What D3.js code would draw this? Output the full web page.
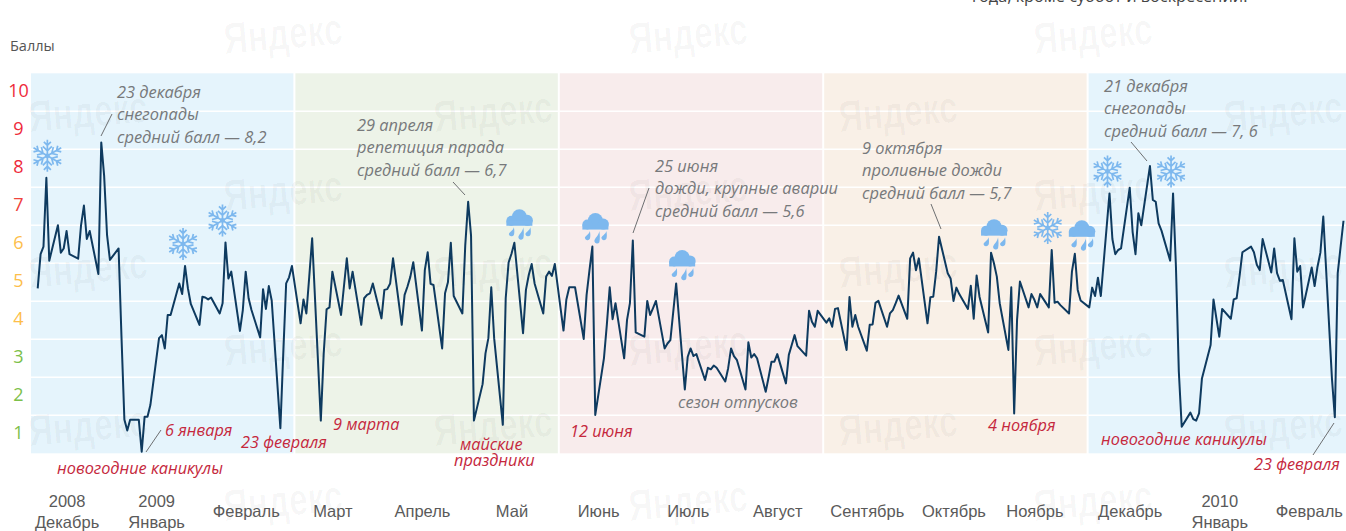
<!DOCTYPE html>
<html><head><meta charset="utf-8">
<script src="https://cdn.jsdelivr.net/npm/d3@7/dist/d3.min.js"></script>
<style>
html,body{margin:0;padding:0;background:#fff;overflow:hidden}
svg{display:block}
.note{font-family:"Open Sans",sans-serif;font-style:italic;font-size:16.4px;fill:#77797b}
.red{fill:#c5283d;font-size:16.3px}
.axis text{font-family:"Liberation Sans",sans-serif}
</style></head><body><svg id="c" width="1346" height="531"></svg>
<script>
const seasons = ["зима","весна","лето","осень","зима2"];
const seasonColors = ["#e5f4fc","#edf3e8","#f8ecec","#f9f0e7","#e5f4fc"];
const gridValues = [1,2,3,4,5,6,7,8,9];
const scoreLabels = [1,2,3,4,5,6,7,8,9,10];
const scoreColors = ["#7cc04a","#7cc04a","#7cc04a","#fdbe4a","#fdbe4a","#fdbe4a","#f0433c","#ee2a3a","#ee2a3a","#ee2a3a"];
// Одно значение на рабочий день, неделя за неделей, с 1 декабря 2008
const scores = [
4.34,5.24,5.44,7.25,5.07, 6.0,5.28,5.39,5.85,5.24, 5.12,6.0,6.52,5.64,5.85, 4.72,8.18,7.3,5.75,5.09,
5.39,3.07,0.89,0.6,0.88, 0.88,0.04,0.96,0.96,1.27, 3.03,3.11,2.76,3.64,3.64, 4.47,4.19,4.93,4.34,3.93,
3.38,4.12,4.1,4.05,4.1, 3.68,3.95,5.55,4.6,4.78, 3.22,3.77,4.78,4.08,3.77, 3.05,4.32,3.8,4.4,4.02,
0.66,2.63,4.47,4.63,4.93, 3.42,4.05,3.68,4.65,5.66, 0.86,2.63,3.79,3.84,4.78, 3.64,4.39,5.13,4.34,4.78,
3.38,4.08,4.17,4.21,4.47, 3.55,4.3,4.32,4.47,5.13, 3.38,4.17,4.39,4.65,5.03, 3.23,4.82,5.29,4.46,4.43,
2.76,4.21,4.5,5.54,4.14, 3.68,5.48,6.62,5.73,0.86, 1.82,2.63,3.03,4.37,3.03, 0.75,4.08,5.02,5.25,5.54,
3.16,4.3,4.7,4.98,4.47, 3.68,4.65,4.78,4.67,4.98, 3.23,4.05,4.37,4.37,4.37, 3.01,4.17,4.82,5.44,1.01,
2.5,3.38,4.37,3.53,3.95, 2.5,3.51,3.95,5.6,3.18, 3.07,4.01,3.64,3.82,4.01, 2.76,2.89,2.98,3.73,4.47,
1.68,2.54,2.76,2.56,2.61, 1.93,2.25,2.21,2.31,2.25, 1.89,2.24,2.76,2.56,2.46, 1.68,2.92,2.52,2.61,2.5,
1.62,2.0,2.41,2.41,2.61, 1.84,2.59,2.85,3.11,2.82, 2.57,3.75,3.46,3.33,3.75, 3.44,3.55,3.33,3.8,3.82,
2.72,4.11,3.33,3.64,3.33, 2.7,3.38,3.39,3.96,4.01, 3.33,3.68,3.77,3.95,4.15, 3.54,5.13,5.28,4.82,5.13,
3.42,4.11,4.12,4.78,5.7, 4.74,4.6,4.01,4.36,4.19, 3.8,4.41,3.54,4.68,4.12, 3.18,5.28,5.0,4.65,3.95,
2.72,4.37,1.05,3.51,4.52, 3.84,4.19,4.04,3.84,4.19, 3.84,5.35,3.96,3.99,3.9, 3.68,4.78,5.25,4.3,4.02,
3.84,4.36,4.14,4.62,4.14, 6.84,5.64,5.24,5.35,5.39, 6.99,5.83,5.24,6.32,6.0, 7.56,6.67,6.62,6.05,5.86,
5.07,6.84,4.91,2.15,0.7, 1.07,0.9,0.86,1.05,1.97, 2.85,4.05,3.55,3.07,3.8, 3.54,4.05,4.08,4.65,5.29,
5.44,5.29,4.96,4.82,5.64, 4.76,5.39,4.74,4.54,4.56, 3.53,5.66,4.78,4.93,3.84, 4.89,4.4,4.91,5.28,6.23,
1.97,0.95,4.74,5.44,6.12
];
const monthLabels = [["2008","Декабрь"],["2009","Январь"],["Февраль"],["Март"],["Апрель"],["Май"],["Июнь"],["Июль"],["Август"],["Сентябрь"],["Октябрь"],["Ноябрь"],["Декабрь"],["2010","Январь"],["Февраль"]];
const monthDates = ["2008-12-11","2009-01-11","2009-02-11","2009-03-13","2009-04-13","2009-05-14","2009-06-13","2009-07-14","2009-08-14","2009-09-14","2009-10-14","2009-11-11","2009-12-14","2010-01-14","2010-02-14"];
const iconDates = ["2008-12-04","2009-01-21","2009-02-04","2009-05-15","2009-06-11","2009-07-10","2009-10-27","2009-11-17","2009-11-25","2009-12-07","2009-12-29"];
const iconKinds = ["snow","snow","snow","rain","rain","rain","rain","snow","rain","snow","snow"];
const iconShift = [1,-2,-3,5,3,6,3,-4,7,-2,-2];
const notes = [
 {x:117,y:98,lines:["23 декабря","снегопады","средний балл — 8,2"]},
 {x:357,y:131,lines:["29 апреля","репетиция парада","средний балл — 6,7"]},
 {x:655,y:172,lines:["25 июня","дожди, крупные аварии","средний балл — 5,6"]},
 {x:862,y:154,lines:["9 октября","проливные дожди","средний балл — 5,7"]},
 {x:1104,y:92,lines:["21 декабря","снегопады","средний балл — 7, 6"]},
 {x:678,y:408,lines:["сезон отпусков"]}
];
const redNotes = [
 {x:165,y:436,t:"6 января"},{x:241,y:448,t:"23 февраля"},{x:57,y:474,t:"новогодние каникулы"},
 {x:333,y:430,t:"9 марта"},{x:460,y:450,t:"майские"},{x:454,y:466,t:"праздники"},
 {x:570,y:437,t:"12 июня"},{x:988,y:431,t:"4 ноября"},{x:1101,y:445,t:"новогодние каникулы"},{x:1254,y:470,t:"23 февраля"}
];
const leaders = [[101,136,112,114],[453,182,465,195],[633,233,649,188],[931,204,941,229],[1131,142,1147,161],[146,452,161,430],[1313,455,1334,423]];
const wmTop = [[225,54],[630,54],[1035,54],[225,211],[630,211],[1035,211],[225,366],[630,366],[1035,366],[225,521],[630,521],[1035,521]];
const wmSide = [[30,132],[435,132],[840,132],[1225,132],[30,288],[435,288],[840,288],[1225,288],[30,446],[435,446],[840,446],[1225,446]];

const svg = d3.select("#c");
const parse = d3.utcParse("%Y-%m-%d");
const x = d3.scaleUtc().domain([parse("2008-12-01"),parse("2010-02-26")]).range([37.7,1343.5]);
const y = d3.scaleLinear().domain([0,10]).range([453.3,73.3]);
const band = d3.scaleBand().domain(seasons).range([31,1351]).paddingInner(2/264).paddingOuter(0);
const days = d3.utcDay.range(parse("2008-12-01"),parse("2010-02-27")).filter(d=>d.getUTCDay()>0&&d.getUTCDay()<6);

svg.append("g").selectAll("rect").data(seasons).join("rect")
 .attr("x",d=>band(d)).attr("width",band.bandwidth()).attr("y",y(10)).attr("height",y(0)-y(10))
 .attr("fill",(d,i)=>seasonColors[i]);
svg.append("g").selectAll("line").data(gridValues).join("line")
 .attr("x1",31).attr("x2",1346).attr("y1",d=>y(d)).attr("y2",d=>y(d))
 .attr("stroke","#fff").attr("stroke-width",1.5);

// водяные знаки
const wm = svg.append("g");
wmTop.concat(wmSide).forEach(p=>wm.append("text").attr("x",0).attr("y",0)
 .attr("transform",`translate(${p[0]},${p[1]}) rotate(-5) scale(0.76,1)`)
 .attr("font-family","'Liberation Sans',sans-serif").attr("font-weight","bold")
 .attr("font-size",44).attr("fill","#000").attr("fill-opacity",0.03).text("Яндекс"));

// ось Y
const yAxis = d3.axisLeft(y).tickValues(scoreLabels.map(d=>d-0.5)).tickFormat(d=>d+0.5).tickSize(0);
const gy = svg.append("g").attr("class","axis").attr("transform","translate(18.5,-2)").call(yAxis);
gy.select(".domain").remove();
gy.selectAll("text").attr("x",0).attr("text-anchor","middle")
 .attr("font-size",18).style("font-family","'Open Sans',sans-serif").attr("fill",(d,i)=>scoreColors[i]);

// ось X
const xAxis = d3.axisBottom(x).tickValues(monthDates.map(parse)).tickFormat((d,i)=>monthLabels[i].join("|")).tickSize(0);
const gx = svg.append("g").attr("class","axis").call(xAxis);
gx.select(".domain").remove();
gx.selectAll("text").each(function(d,i){
 const t=d3.select(this).text("").attr("font-size",16.5).attr("fill","#5a5a5a");
 const ls=monthLabels[i];
 const y0 = ls.length>1 ? 507 : 517;
 t.attr("y",y0).attr("dy",null);
 ls.forEach((s,k)=>t.append("tspan").attr("x",0).attr("y",y0+k*21).text(s));
});

// линия
const line = d3.line().x((d,i)=>x(days[i])).y(d=>y(d));
svg.append("path").datum(scores).attr("d",line).attr("fill","none").attr("stroke","#0e3a5f").attr("stroke-width",2).attr("stroke-linejoin","round");

// выноски
svg.append("g").selectAll("line").data(leaders).join("line")
 .attr("x1",d=>d[0]).attr("y1",d=>d[1]).attr("x2",d=>d[2]).attr("y2",d=>d[3])
 .attr("stroke","#6d6f71").attr("stroke-width",1);

// подписи
notes.forEach(n=>{
 const t=svg.append("text").attr("class","note");
 n.lines.forEach((s,k)=>t.append("tspan").attr("x",n.x).attr("y",n.y+k*22.4).text(s));
});
svg.append("g").selectAll("text").data(redNotes).join("text").attr("class","note red")
 .attr("x",d=>d.x).attr("y",d=>d.y).text(d=>d.t);
svg.append("text").attr("x",10).attr("y",51).attr("font-family","'Open Sans',sans-serif").attr("font-size",14.5).attr("fill","#555").text("Баллы");
svg.append("text").attr("x",972).attr("y",2).attr("font-family","'Open Sans',sans-serif").attr("font-size",16.3).attr("fill","#444").text("года, кроме суббот и воскресений.");

// значки
const iconColor="#7db8ee";
function snow(g){
 for(let a=0;a<6;a++){
  const s=g.append("g").attr("transform",`rotate(${a*60})`).attr("stroke",iconColor).attr("stroke-width",1.7).attr("fill","none");
  s.append("path").attr("d","M0,0V-16M-3.5,-14L0,-10.5L3.5,-14M-4.5,-9.5L0,-5L4.5,-9.5");
 }
 g.append("circle").attr("r",2.4).attr("fill",iconColor);
}
function rain(g){
 g.attr("fill",iconColor);
 g.append("circle").attr("cx",0).attr("cy",-7).attr("r",7.5);
 g.append("circle").attr("cx",-8).attr("cy",-3).attr("r",5);
 g.append("circle").attr("cx",8).attr("cy",-3.5).attr("r",5.5);
 g.append("rect").attr("x",-13).attr("y",-3).attr("width",26).attr("height",5);
 [[-5.5,3.5,9],[4,3.5,13],[11,3.5,9]].forEach(p=>{
  const [a,b,h]=p;
  g.append("path").attr("d",`M${a},${b}C${a-0.5},${b+h*0.35} ${a-5},${b+h*0.55} ${a-5},${b+h*0.78}A2.7,2.7 0 0 0 ${a},${b+h*0.85}C${a+0.8},${b+h*0.6} ${a+0.5},${b+h*0.3} ${a},${b}Z`);
 });
}
iconDates.forEach((s,i)=>{
 const d=parse(s), j=days.findIndex(v=>+v===+d);
 const g=svg.append("g").attr("transform",`translate(${x(d)+iconShift[i]},${y(scores[j])-(iconKinds[i]==="snow"?22:19)})`);
 (iconKinds[i]==="snow"?snow:rain)(g);
});
</script></body></html>
